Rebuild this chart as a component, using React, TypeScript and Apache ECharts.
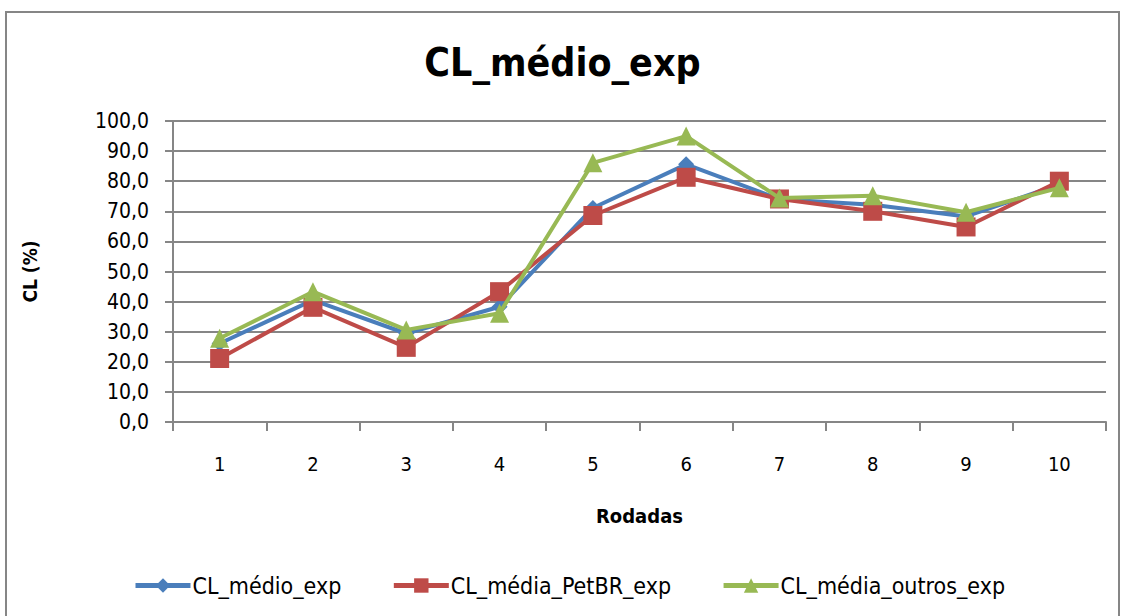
import React, { useEffect, useRef } from "react";
import * as echarts from "echarts";

const rounds = ["1", "2", "3", "4", "5", "6", "7", "8", "9", "10"];
const clMedio = [26.1, 40.5, 29.4, 38.3, 71.1, 85.6, 74.0, 72.2, 68.3, 78.9];
const clPetBR = [21.1, 38.1, 24.8, 43.3, 68.6, 81.3, 74.1, 70.0, 64.8, 80.0];
const clOutros = [27.8, 43.3, 30.6, 36.1, 86.1, 95.0, 74.4, 75.2, 69.7, 77.8];

const FONT = "'Liberation Sans Narrow', 'DejaVu Sans Condensed', 'Open Sans', sans-serif";

export default function App() {
  const ref = useRef<HTMLDivElement>(null);
  useEffect(() => {
    document.body.style.margin = "0";
    const chart = echarts.init(ref.current!, null, { renderer: "svg" });
    chart.setOption({
      animation: false,
      backgroundColor: "#ffffff",
      textStyle: { fontFamily: FONT },
      title: {
        text: "CL_médio_exp",
        left: "center",
        top: 38,
        textStyle: { fontFamily: FONT, fontSize: 39, fontWeight: "bold", color: "#000" },
      },
      graphic: [
        {
          type: "rect",
          shape: { x: 6, y: 12, width: 1113, height: 620 },
          style: { fill: "none", stroke: "#868686", lineWidth: 2 },
          silent: true,
        },
      ],
      grid: { left: 173, right: 19, top: 121, bottom: 194 },
      legend: {
        bottom: 14,
        left: 128,
        itemWidth: 55,
        itemHeight: 18,
        itemGap: 50,
        lineStyle: { width: 5 },
        textStyle: { fontFamily: FONT, fontSize: 23, color: "#000", padding: [0, 0, 0, -3] },
        data: ["CL_médio_exp", "CL_média_PetBR_exp", "CL_média_outros_exp"],
      },
      xAxis: {
        type: "category",
        data: rounds,
        boundaryGap: true,
        name: "Rodadas",
        nameLocation: "middle",
        nameGap: 84,
        nameTextStyle: { fontFamily: FONT, fontSize: 20, fontWeight: "bold", color: "#000" },
        axisLine: { lineStyle: { color: "#868686", width: 2 } },
        axisTick: { show: true, length: 9, alignWithLabel: false, lineStyle: { color: "#868686", width: 2 } },
        axisLabel: { fontFamily: FONT, fontSize: 20, color: "#000", margin: 32 },
      },
      yAxis: {
        type: "value",
        min: 0,
        max: 100,
        interval: 10,
        name: "CL (%)",
        nameLocation: "middle",
        nameRotate: 90,
        nameGap: 134,
        nameTextStyle: { fontFamily: FONT, fontSize: 19, fontWeight: "bold", color: "#000" },
        axisLine: { show: true, lineStyle: { color: "#868686", width: 2 } },
        axisTick: { show: true, length: 8, lineStyle: { color: "#868686", width: 2 } },
        axisLabel: {
          fontFamily: FONT,
          fontSize: 21,
          color: "#000",
          margin: 24,
          formatter: (v: number) => v.toFixed(1).replace(".", ","),
        },
        splitLine: { show: true, lineStyle: { color: "#868686", width: 2 } },
      },
      series: [
        {
          name: "CL_médio_exp",
          type: "line",
          data: clMedio,
          symbol: "diamond",
          symbolSize: 16,
          color: "#4a7ebb",
          lineStyle: { width: 4, color: "#4a7ebb" },
          itemStyle: { color: "#4a7ebb" },
          z: 3,
        },
        {
          name: "CL_média_PetBR_exp",
          type: "line",
          data: clPetBR,
          symbol: "rect",
          symbolSize: 19,
          color: "#be4b48",
          lineStyle: { width: 4, color: "#be4b48" },
          itemStyle: { color: "#be4b48" },
          z: 4,
        },
        {
          name: "CL_média_outros_exp",
          type: "line",
          data: clOutros,
          symbol: "triangle",
          symbolSize: 19,
          color: "#98b954",
          lineStyle: { width: 4, color: "#98b954" },
          itemStyle: { color: "#98b954" },
          z: 5,
        },
      ],
    });
    return () => chart.dispose();
  }, []);
  return <div ref={ref} style={{ width: 1125, height: 616 }} />;
}
